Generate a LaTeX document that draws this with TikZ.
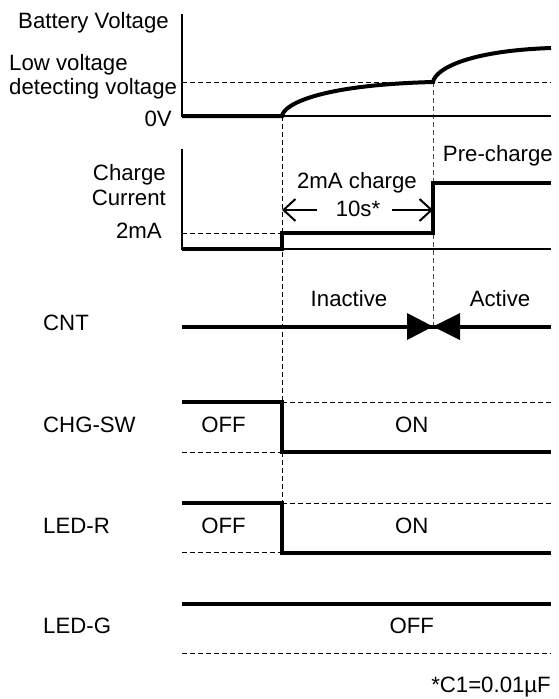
\documentclass[tikz,border=0pt]{standalone}
\usepackage{fontspec}
\setmainfont{Liberation Sans}
\usetikzlibrary{arrows.meta}
\begin{document}
\begin{tikzpicture}[x=1pt,y=-1pt,
  txt/.style={inner sep=0pt,font=\fontsize{22.2}{25}\selectfont},
  sig/.style={line width=4pt},
  axisline/.style={line width=1.3pt},
  dsh/.style={line width=1pt,dash pattern=on 5pt off 3pt},
  dimarrow/.style={line width=2pt,-{Straight Barb[length=12pt,width=22pt,line width=2pt]}}
]
\useasboundingbox (0,0) rectangle (559,699);

% vertical guide lines
\draw[dsh] (282,116) -- (282,503);
\draw[dsh,black!70] (433,82) -- (433,326.5);

% ---------- Battery voltage ----------
\draw[axisline] (182,14) -- (182,116) -- (551,116);
\draw[dsh] (182,82) -- (551,82);
\draw[sig] (182,116) -- (282,116) .. controls (284,104) and (320,85) .. (433,82)
  .. controls (435,70) and (465,51) .. (551,48);
\node[txt,anchor=base west] (bv) at (18,28.5) {Battery Voltage};
\node[txt,anchor=base west] (lv1) at (9,70) {Low voltage};
\node[txt,anchor=base west] (lv2) at (9,94.5) {detecting voltage};
\node[txt,anchor=base east] (zv) at (172,126) {0V};

% ---------- Charge current ----------
\draw[axisline] (182,149) -- (182,249) -- (551,249);
\draw[dsh] (182,233) -- (282,233);
\draw[sig] (182,249) -- (282,249) -- (282,233) -- (433,233) -- (433,183) -- (551,183);
\coordinate (dA) at (282,210);
\coordinate (dA2) at (317,210);
\coordinate (dB) at (433,210);
\coordinate (dB2) at (392,210);
\draw[dimarrow] (dA2) -- (dA);
\draw[dimarrow] (dB2) -- (dB);
\node[txt,anchor=base east] (cc1) at (166,180) {Charge};
\node[txt,anchor=base east] (cc2) at (166,205) {Current};
\node[txt,anchor=base east] (cc3) at (162,238) {2mA};
\node[txt,anchor=base] (c2ma) at (357,188) {2mA charge};
\node[txt,anchor=base] (c10s) at (358,216) {10s*};
\node[txt,anchor=base east] (pre) at (553,161.5) {Pre-charge};

% ---------- CNT ----------
\draw[sig] (182,326.5) -- (551,326.5);
\fill (407,313) -- (433,326.5) -- (407,340) -- cycle;
\fill (460,313) -- (433,326.5) -- (460,340) -- cycle;
\node[txt,anchor=base west] (cnt) at (43,330.7) {CNT};
\node[txt,anchor=base] (inact) at (349,306) {Inactive};
\node[txt,anchor=base] (act) at (500,306) {Active};

% ---------- CHG-SW ----------
\draw[dsh] (282,402) -- (551,402);
\draw[dsh] (182,452) -- (282,452);
\draw[sig] (182,402) -- (282,402) -- (282,452) -- (551,452);
\node[txt,anchor=base west] (chg) at (43,432.7) {CHG-SW};
\node[txt,anchor=base] (chgoff) at (223.5,432.7) {OFF};
\node[txt,anchor=base] (chgon) at (411.7,432.7) {ON};

% ---------- LED-R ----------
\draw[dsh] (282,503) -- (551,503);
\draw[dsh] (182,552.5) -- (282,552.5);
\draw[sig] (182,503) -- (282,503) -- (282,552.5) -- (551,552.5);
\node[txt,anchor=base west] (ledr) at (43,533) {LED-R};
\node[txt,anchor=base] (ledroff) at (223.5,533) {OFF};
\node[txt,anchor=base] (ledron) at (411.7,533) {ON};

% ---------- LED-G ----------
\draw[sig] (182,603.5) -- (551,603.5);
\draw[dsh] (182,653) -- (551,653);
\node[txt,anchor=base west] (ledg) at (43,633.5) {LED-G};
\node[txt,anchor=base] (ledgoff) at (411.7,633.5) {OFF};

\node[txt,anchor=base east] (note) at (551,692) {*C1=0.01µF};
\end{tikzpicture}
\end{document}
